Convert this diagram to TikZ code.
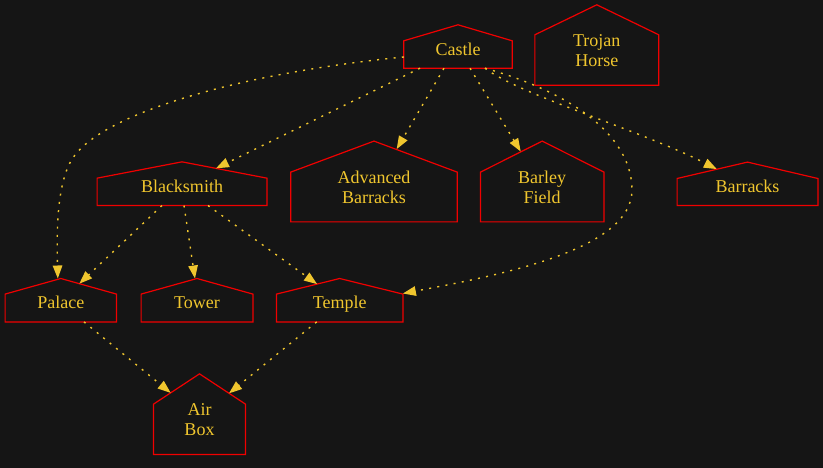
\documentclass[tikz,border=0pt]{standalone}
\usepackage{fontspec}
\setmainfont{Liberation Serif}
\usepackage{tikz}
\usetikzlibrary{arrows.meta}
\definecolor{bgdark}{HTML}{151515}
\definecolor{wallred}{HTML}{F00000}
\definecolor{amber}{HTML}{F0C62E}
\newcommand{\roofgap}{\rule{0pt}{23.3pt}}

\begin{document}
\begin{tikzpicture}[x=1pt, y=-1pt,
  house/.style={draw=none, text=amber, font=\fontsize{18}{20}\selectfont,
    align=center, inner sep=0pt},
  oneline/.style={text height=17.5pt, text depth=0pt},
  wall/.style={draw=wallred, line width=1.2pt, line join=miter},
  link/.style={draw=amber, line width=1.4pt, dash pattern=on 2pt off 6.3pt,
    -{Triangle[length=13pt, width=9.5pt]}}
]
  % Canvas
  \fill[bgdark] (0,0) rectangle (823,468);
  % Houses (box holds roof + walls)
  \node[house, oneline, minimum width=108pt, minimum height=43pt] (castle) at (458,46.5) {Castle};
  \node[house, minimum width=123.5pt, minimum height=80pt] (horse) at (596.8,45) {\roofgap Trojan\\Horse};
  \node[house, oneline, minimum width=169.4pt, minimum height=43.3pt] (blacksmith) at (182,183.7) {Blacksmith};
  \node[house, minimum width=166pt, minimum height=80.4pt] (advbarracks) at (374,181.5) {\roofgap Advanced\\Barracks};
  \node[house, minimum width=123pt, minimum height=80.4pt] (barley) at (542.2,181.5) {\roofgap Barley\\Field};
  \node[house, oneline, minimum width=140.4pt, minimum height=43pt] (barracks) at (747.5,183.8) {Barracks};
  \node[house, oneline, minimum width=111pt, minimum height=43pt] (palace) at (60.8,300.2) {Palace};
  \node[house, oneline, minimum width=111.4pt, minimum height=43pt] (tower) at (197,300.2) {Tower};
  \node[house, oneline, minimum width=126pt, minimum height=43pt] (temple) at (339.7,300.2) {Temple};
  \node[house, minimum width=91.6pt, minimum height=80.3pt] (airbox) at (199.5,414.2) {\roofgap Air\\Box};
  % Walls and roofs
  \foreach \n/\r in {castle/16, horse/30, blacksmith/16.3, advbarracks/31,
    barley/31, barracks/16.4, palace/15.6, tower/15.6, temple/15.6, airbox/30.3}{
    \draw[wall] (\n.south west) -- ([yshift=-\r pt]\n.north west) -- (\n.north)
      -- ([yshift=-\r pt]\n.north east) -- (\n.south east) -- cycle;
  }
  % Castle edges
  \draw[link] ([yshift=-10.5pt]castle.west) .. controls (250,72) and (110,110) .. (75,155)
    .. controls (55,180) and (57,240) .. ([xshift=-3pt]palace.north);
  \draw[link] ([xshift=-38pt]castle.south) -- ([xshift=34pt, yshift=-6.5pt]blacksmith.north);
  \draw[link] ([xshift=-14pt]castle.south) -- ([xshift=22.7pt, yshift=-8pt]advbarracks.north);
  \draw[link] ([xshift=12pt]castle.south) -- ([xshift=-21.5pt, yshift=-10.4pt]barley.north);
  \draw[link] ([xshift=27pt]castle.south) .. controls (520,95) and (640,130)
    .. ([xshift=-30.7pt, yshift=-7pt]barracks.north);
  \draw[link] ([xshift=27pt]castle.south) .. controls (580,95) and (632,140) .. (632,190)
    .. controls (632,250) and (500,275) .. ([yshift=-15pt]temple.north east);
  % Blacksmith edges
  \draw[link] ([xshift=-20pt]blacksmith.south) -- ([xshift=18.5pt, yshift=-5.2pt]palace.north);
  \draw[link] ([xshift=2pt]blacksmith.south) -- ([xshift=-2pt]tower.north);
  \draw[link] ([xshift=26pt]blacksmith.south) -- ([xshift=-22.6pt, yshift=-5.6pt]temple.north);
  % Air Box edges
  \draw[link] ([xshift=23.2pt]palace.south) -- ([xshift=-28.8pt, yshift=-19pt]airbox.north);
  \draw[link] ([xshift=-23pt]temple.south) -- ([xshift=29.5pt, yshift=-19.5pt]airbox.north);
\end{tikzpicture}
\end{document}
